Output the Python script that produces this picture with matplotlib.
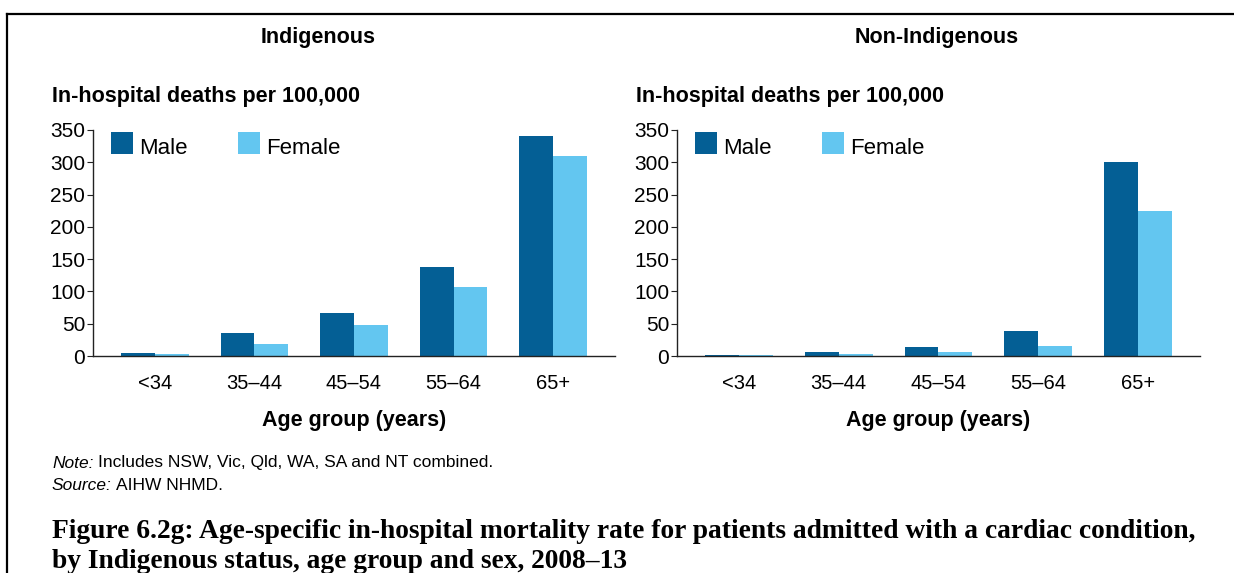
import numpy as np
import matplotlib.pyplot as plt
from matplotlib.lines import Line2D
from matplotlib.patches import Rectangle

# Age-specific in-hospital mortality, cardiac admissions, 2008-13
AGE_GROUPS = ['<34', '35–44', '45–54', '55–64', '65+']
INDIG_MALE = [5, 36, 67, 138, 340]
INDIG_FEMALE = [3, 18, 48, 107, 309]
NONINDIG_MALE = [1.5, 6, 14, 38, 300]
NONINDIG_FEMALE = [1, 3, 6, 16, 225]
Y_TICKS = [0, 50, 100, 150, 200, 250, 300, 350]
SERIES = ['Male', 'Female']

MALE_COLOR = '#045f95'
FEMALE_COLOR = '#63c6f0'
SANS = 'Liberation Sans'

W, H = 1234, 573


def fx(px):
    return px / W


def fy(py):
    return 1 - py / H


def px_axes(fig, x0, x1, y_top, y_bot):
    """add axes from pixel box"""
    return fig.add_axes([fx(x0), fy(y_bot), (x1 - x0) / W, (y_bot - y_top) / H])


def draw_legend(fig, x0):
    # square keys with the label baseline sitting on the key's bottom edge
    for i, (name, col) in enumerate(zip(SERIES, [MALE_COLOR, FEMALE_COLOR])):
        kx = x0 + 18 + i * 127
        fig.add_artist(Rectangle((fx(kx), fy(154)), 22 / W, 22 / H, facecolor=col,
                                 edgecolor='none', transform=fig.transFigure))
        fig.text(fx(kx + 28), fy(154), name, fontsize=16, family=SANS, va='baseline', ha='left')


def draw_panel(fig, x0, x1, male, female, title, title_x):
    ax = px_axes(fig, x0, x1, 130, 356)
    x = np.arange(len(AGE_GROUPS))
    bw = 0.34
    ax.bar(x - bw / 2, male, width=bw, color=MALE_COLOR, linewidth=0)
    ax.bar(x + bw / 2, female, width=bw, color=FEMALE_COLOR, linewidth=0)
    ax.set_xlim(-0.62, len(AGE_GROUPS) - 1 + 0.62)
    ax.set_ylim(0, 350)
    ax.set_yticks(Y_TICKS)
    ax.set_xticks(x)
    ax.set_xticklabels(AGE_GROUPS)
    for s in ['top', 'right']:
        ax.spines[s].set_visible(False)
    for s in ['left', 'bottom']:
        ax.spines[s].set_linewidth(1.0)
        ax.spines[s].set_color('#222222')
    ax.tick_params(axis='y', length=4, width=0.8, pad=1.5, labelsize=15, colors='#222222')
    ax.tick_params(axis='x', length=0, pad=13, labelsize=14.5, colors='#222222')
    for lab in ax.get_xticklabels() + ax.get_yticklabels():
        lab.set_family(SANS)
        lab.set_color('black')
    ax.set_xlabel('Age group (years)', fontsize=15.5, fontweight='bold', family=SANS, labelpad=12)

    draw_legend(fig, x0)

    fig.text(fx(title_x), fy(37), title, ha='center', va='center',
             fontsize=15.5, fontweight='bold', family=SANS)
    fig.text(fx(x0 - 41), fy(97), 'In-hospital deaths per 100,000', ha='left', va='center',
             fontsize=15.5, fontweight='bold', family=SANS)
    return ax


def label_pair(fig, x, y, head, body, size):
    """italic lead-in followed by plain text on the same line"""
    t = fig.text(fx(x), fy(y), head, style='italic', fontsize=size, family=SANS, va='center')
    fig.canvas.draw()
    bb = t.get_window_extent()
    fig.text((bb.x1 + 4) / W, fy(y), body, fontsize=size, family=SANS, va='center')


fig = plt.figure(figsize=(W / 100, H / 100), dpi=100)

draw_panel(fig, 93, 615, INDIG_MALE, INDIG_FEMALE, 'Indigenous', 318)
draw_panel(fig, 677, 1200, NONINDIG_MALE, NONINDIG_FEMALE, 'Non-Indigenous', 937)

# frame around the figure block (top and left edges)
fig.add_artist(Line2D([fx(7), 1.0], [fy(14), fy(14)], color='black', linewidth=1.6,
                      transform=fig.transFigure))
fig.add_artist(Line2D([fx(7), fx(7)], [fy(14), 0.0], color='black', linewidth=1.6,
                      transform=fig.transFigure))

# notes
label_pair(fig, 52, 463, 'Note:', 'Includes NSW, Vic, Qld, WA, SA and NT combined.', 12.5)
label_pair(fig, 52, 485, 'Source:', 'AIHW NHMD.', 12.5)

# figure caption
fig.text(fx(52), fy(532), 'Figure 6.2g: Age-specific in-hospital mortality rate for patients admitted '
         'with a cardiac condition,', fontsize=19.8, fontweight='bold', family='Liberation Serif',
         va='center', ha='left')
fig.text(fx(52), fy(561), 'by Indigenous status, age group and sex, 2008–13', fontsize=19.8,
         fontweight='bold', family='Liberation Serif', va='center', ha='left')

fig.savefig('out.png', dpi=100)
